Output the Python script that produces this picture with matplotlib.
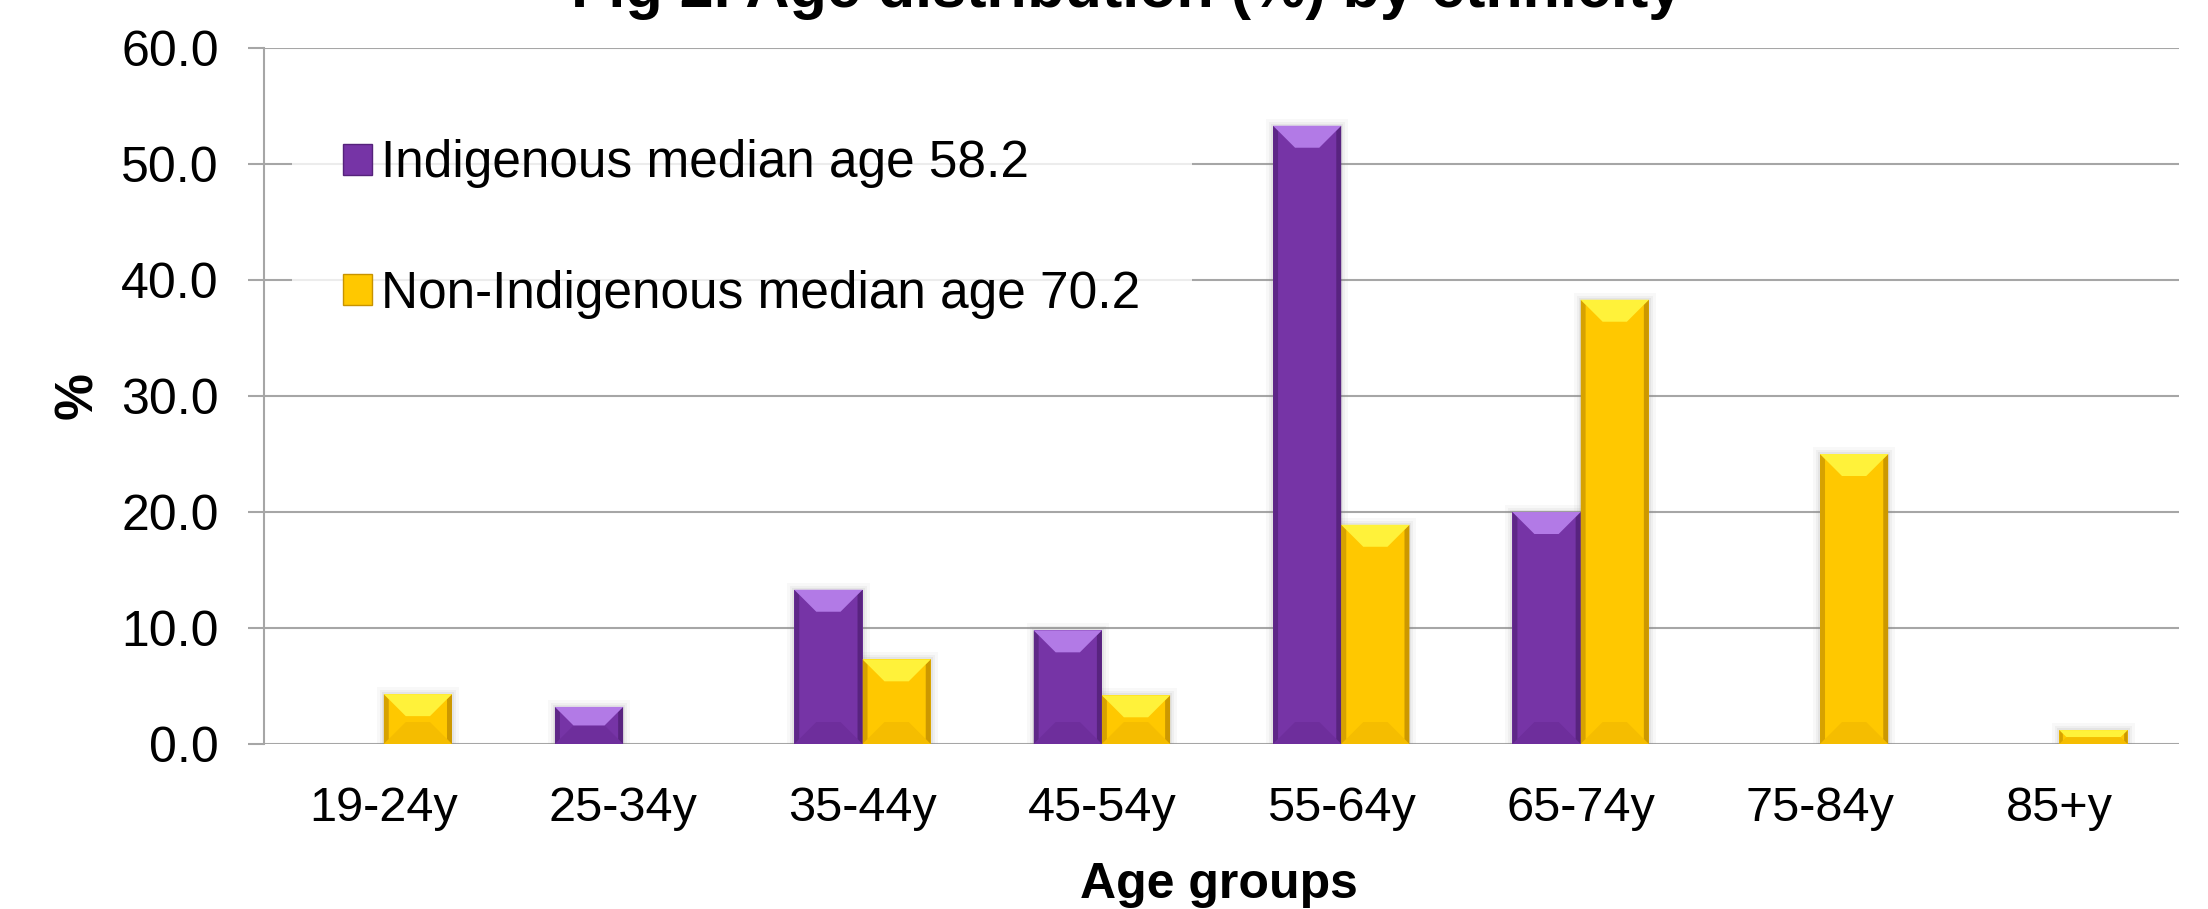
import matplotlib
matplotlib.use("Agg")
import matplotlib.pyplot as plt
import numpy as np
from matplotlib.patches import Patch, Polygon, Rectangle

plt.rcParams["font.family"] = ["Liberation Sans", "DejaVu Sans"]

# age distribution (%) by ethnicity
age_groups = ["19-24y", "25-34y", "35-44y", "45-54y", "55-64y", "65-74y", "75-84y", "85+y"]
indigenous = [0.0, 3.2, 13.3, 9.8, 53.3, 20.0, 0.0, 0.0]
non_indigenous = [4.3, 0.0, 7.3, 4.2, 18.9, 38.3, 25.0, 1.2]
series_labels = ["Indigenous median age 58.2", "Non-Indigenous median age 70.2"]
y_ticks = [0, 10, 20, 30, 40, 50, 60]

PURPLE = ("#7634a6", "#b27ae6", "#55227b", "#6e2e9c")
YELLOW = ("#ffc800", "#fff23a", "#c79300", "#f5bd00")
GRID = "#a6a6a6"


def bevel_bar(ax, xc, width, height, colors):
    """Bar with a chamfered top and darker sides, sized in pixels."""
    body, light, dark, low = colors
    if height <= 0:
        return
    ax.bar(xc, height, width, color=body, linewidth=0, zorder=3)

    p0 = ax.transData.transform((0, 0))
    p1 = ax.transData.transform((1, 1))
    sx, sy = p1 - p0
    h_px = height * sy
    b = min(22.0, h_px / 2.0)
    s = min(5.0, h_px / 4.0)
    bx, by = b / sx, b / sy
    ex, ey = s / sx, s / sy
    x0, x1 = xc - width / 2, xc + width / 2

    # soft drop shadow
    for k, a in ((7, 0.05), (4, 0.07), (2, 0.09)):
        kx, ky = k / sx, k / sy
        ax.add_patch(Rectangle((x0 - kx, 0), width + 2 * kx, height + ky,
                               facecolor="#808080", alpha=a, linewidth=0, zorder=2.5))

    ax.add_patch(Polygon([(x0, 0), (x1, 0), (x1 - bx, by), (x0 + bx, by)],
                         closed=True, facecolor=low, linewidth=0, zorder=3.1))
    ax.add_patch(Polygon([(x0, 0), (x0 + ex, ey), (x0 + ex, height - ey), (x0, height)],
                         closed=True, facecolor=dark, alpha=0.7, linewidth=0, zorder=3.2))
    ax.add_patch(Polygon([(x1, 0), (x1 - ex, ey), (x1 - ex, height - ey), (x1, height)],
                         closed=True, facecolor=dark, alpha=0.9, linewidth=0, zorder=3.2))
    ax.add_patch(Polygon([(x0, height), (x1, height), (x1 - bx, height - by), (x0 + bx, height - by)],
                         closed=True, facecolor=light, linewidth=0, zorder=3.3))


fig = plt.figure(figsize=(22.08, 9.09), dpi=100)
ax = fig.add_axes([0.1196, 0.1815, 0.8673, 0.7657])

x = np.arange(len(age_groups))
w = 0.285
ax.set_xlim(-0.5, len(age_groups) - 0.5)
ax.set_ylim(0, 60)

for xi, v in zip(x, indigenous):
    bevel_bar(ax, xi - w / 2, w, v, PURPLE)
for xi, v in zip(x, non_indigenous):
    bevel_bar(ax, xi + w / 2, w, v, YELLOW)

ax.set_yticks(y_ticks)
ax.set_yticklabels([f"{t:.1f}" for t in y_ticks], fontsize=36)
ax.set_xticks(x)
ax.set_xticklabels(age_groups, fontsize=35)
ax.tick_params(axis="y", direction="out", length=11.5, width=1.5, color=GRID, pad=21)
ax.tick_params(axis="x", length=0, pad=30)

ax.set_axisbelow(True)
ax.grid(axis="y", color=GRID, linewidth=1.5)
for side in ("top", "right", "bottom"):
    ax.spines[side].set_visible(False)
ax.spines["left"].set_color(GRID)
ax.spines["left"].set_linewidth(1.5)

handles = [Patch(facecolor=PURPLE[0], edgecolor=PURPLE[2], linewidth=1),
           Patch(facecolor=YELLOW[0], edgecolor=YELLOW[2], linewidth=1)]
leg = fig.legend(handles, series_labels, loc="upper left", bbox_to_anchor=(0.1322, 0.9032),
                 fontsize=37, frameon=True, fancybox=False, borderaxespad=0,
                 handlelength=0.56, handleheight=0.56, handletextpad=0.18,
                 labelspacing=1.58, borderpad=1.0)
leg.get_frame().set_facecolor("white")
leg.get_frame().set_edgecolor("none")
leg.set_zorder(10)

# title sits partly above the top edge of the canvas
fig.text(0.5104, 0.9923, "Fig 2. Age distribution (%) by ethnicity",
         fontsize=44, fontweight="bold", ha="center", va="baseline")
fig.text(0.5519, 0.0121, "Age groups", fontsize=36, fontweight="bold",
         ha="center", va="baseline")
fig.text(0.0353, 0.5644, "%", fontsize=38, fontweight="bold", rotation=90,
         ha="center", va="center")

fig.savefig("out.png", dpi=100)
